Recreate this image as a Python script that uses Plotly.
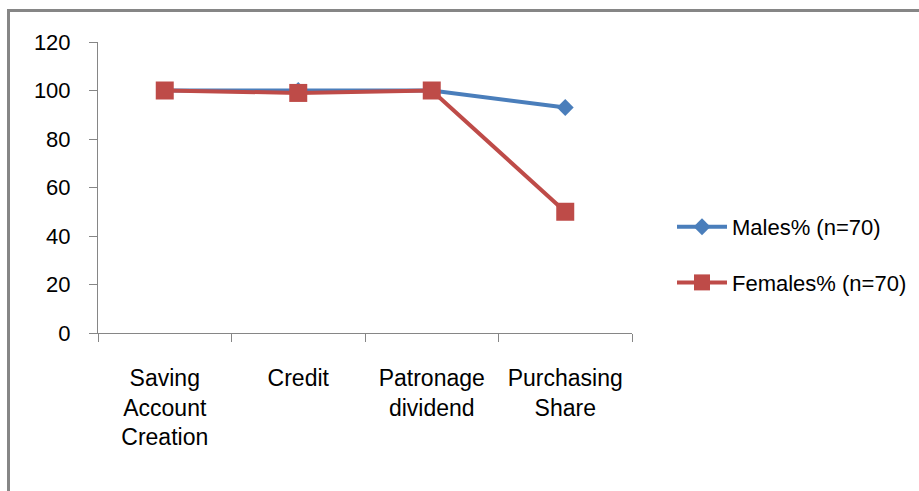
import plotly.graph_objects as go

categories = ["Saving<br>Account<br>Creation", "Credit", "Patronage<br>dividend", "Purchasing<br>Share"]
males = [100, 100, 100, 93]
females = [100, 99, 100, 50]
y_ticks = [0, 20, 40, 60, 80, 100, 120]

FONT = "Liberation Sans, Arial, sans-serif"
BLUE = "#4A7EBB"
RED = "#BE4B48"
AX = "#868686"

fig = go.Figure()
fig.add_trace(go.Scatter(
    x=categories, y=males, mode="lines+markers", name="Males% (n=70)",
    line=dict(color=BLUE, width=4), marker=dict(symbol="diamond", size=13, color=BLUE),
    legendgroup="m"))
fig.add_trace(go.Scatter(
    x=categories, y=females, mode="lines+markers", name="Females% (n=70)",
    line=dict(color=RED, width=4), marker=dict(symbol="square", size=18, color=RED),
    legendgroup="f"))

L, R, T, B = 98, 287, 42, 158
W, H = 919, 491
pw, ph = W - L - R, H - T - B

def px_x(p):
    return (p - L) / pw

def px_y(p):
    return (H - B - p) / ph

fig.update_layout(
    width=W, height=H,
    margin=dict(l=L, r=R, t=T, b=B, autoexpand=False),
    paper_bgcolor="white", plot_bgcolor="white",
    font=dict(family=FONT, size=22, color="black"),
    showlegend=True,
    legend=dict(x=px_x(672), xanchor="left", y=px_y(255), yanchor="middle",
                font=dict(family=FONT, size=22, color="black"),
                bgcolor="rgba(0,0,0,0)", itemwidth=50, tracegroupgap=24,
                traceorder="grouped"),
    xaxis=dict(type="category", range=[-0.5, 3.5], showline=True, linecolor=AX, linewidth=1,
               ticks="outside", ticklen=8, tickcolor=AX, tickson="boundaries",
               showgrid=False, zeroline=False, ticklabelstandoff=24,
               tickfont=dict(family=FONT, size=23, color="black")),
    yaxis=dict(range=[0, 120], tickvals=y_ticks, showline=True, linecolor=AX, linewidth=1,
               ticks="outside", ticklen=8, tickcolor=AX, showgrid=False, zeroline=False,
               ticklabelstandoff=14, tickfont=dict(family=FONT, size=22, color="black")),
    shapes=[
        dict(type="line", xref="paper", yref="paper", x0=px_x(8.5), x1=px_x(8.5), y0=px_y(9), y1=px_y(600),
             line=dict(color=AX, width=3)),
        dict(type="line", xref="paper", yref="paper", x0=px_x(7), x1=px_x(1000), y0=px_y(10.5), y1=px_y(10.5),
             line=dict(color=AX, width=3)),
    ],
)

fig.write_html("out.html")
